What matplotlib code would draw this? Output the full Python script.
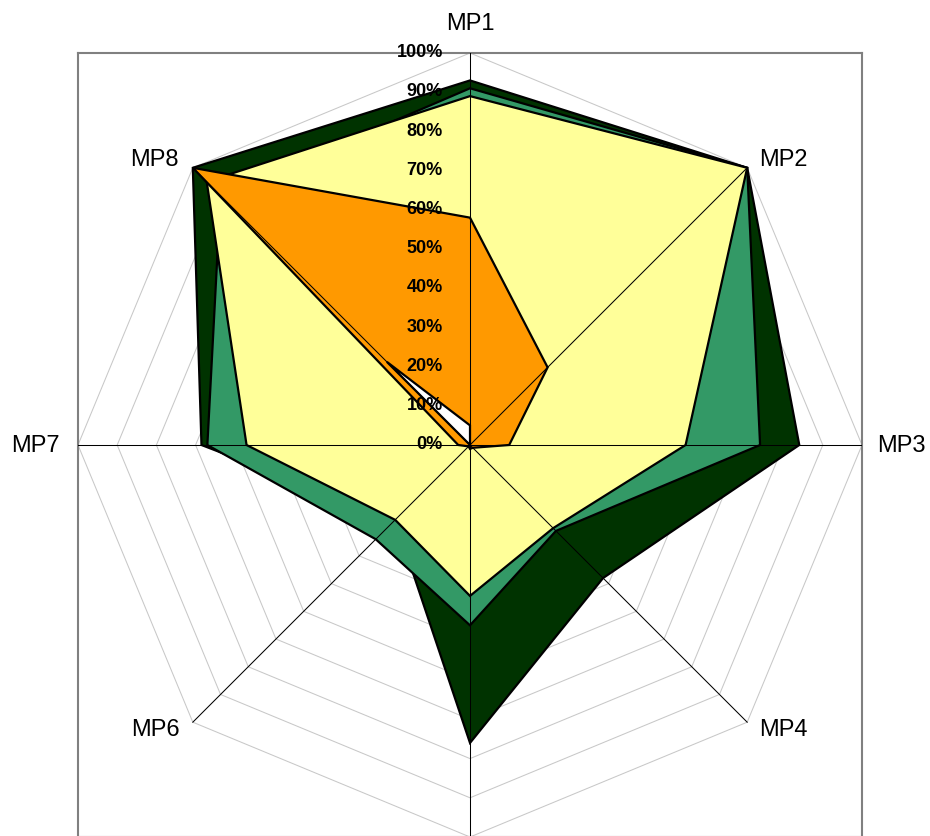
import numpy as np
import matplotlib
matplotlib.use("Agg")
import matplotlib.pyplot as plt

plt.rcParams['font.family'] = ['Liberation Sans', 'DejaVu Sans']

# Kategorien und Werte (in %)
kategorien = ['MP1', 'MP2', 'MP3', 'MP4', 'MP5', 'MP6', 'MP7', 'MP8']
serie_dunkelgruen = [93, 100, 84, 48, 76, 27, 68.5, 100]
serie_gruen = [91, 100, 74, 31, 46, 34, 67, 90]
serie_gelb = [89, 100, 55, 30, 38.5, 27, 57, 95]
serie_orange = [58, 28, 10, 1, 1, 0.5, 3, 100]
serie_weiss = [5, 0, 0, 0, 0, 0, 0, 30]
ticks = [0, 10, 20, 30, 40, 50, 60, 70, 80, 90, 100]

serien = [
    (serie_dunkelgruen, '#003300'),
    (serie_gruen, '#339966'),
    (serie_gelb, '#FFFF99'),
    (serie_orange, '#FF9900'),
    (serie_weiss, '#FFFFFF'),
]

n = len(kategorien)
winkel = np.pi / 2 - np.arange(n) * 2 * np.pi / n


def xy(werte):
    r = np.asarray(werte, dtype=float) / 100.0
    return r * np.cos(winkel), r * np.sin(winkel)


fig = plt.figure(figsize=(9.3, 8.37), dpi=100)
ax = fig.add_axes([78 / 930, -1 / 837, 784 / 930, 784 / 837])
ax.set_xlim(-1, 1)
ax.set_ylim(-1, 1)
ax.set_xticks([])
ax.set_yticks([])
for s in ['left', 'right', 'top', 'bottom']:
    ax.spines[s].set_color('#808080')
    ax.spines[s].set_linewidth(1.5)

#%% Gitternetz (Polygone)
for t in ticks[1:]:
    gx, gy = xy([t] * n)
    ax.plot(np.append(gx, gx[0]), np.append(gy, gy[0]), color='#C8C8C8', lw=0.75, zorder=1)

#%% Datenreihen
for i, (werte, farbe) in enumerate(serien):
    px, py = xy(werte)
    ax.fill(px, py, facecolor=farbe, edgecolor='black', lw=1.6, joinstyle='miter', zorder=2 + i)

#%% Speichen
ex, ey = xy([100] * n)
for k in range(n):
    ax.plot([0, ex[k]], [0, ey[k]], color='black', lw=0.75, zorder=10)

#%% Beschriftungen
for t in ticks:
    ax.annotate(f'{t}%', (0, t / 100), xytext=(-19.5, 1), textcoords='offset points',
                ha='right', va='center', fontsize=13, fontweight='bold', zorder=12)

# MP5 liegt unterhalb des Bildrands (wie im Original abgeschnitten)
versatz = [(0, 17, 'center', 'baseline'), (8.5, 6.5, 'left', 'center'), (11, 0, 'left', 'center'),
           (8.5, -5, 'left', 'center'), None, (-9.5, -5, 'right', 'center'),
           (-13, 0, 'right', 'center'), (-10, 6.5, 'right', 'center')]
for k, name in enumerate(kategorien):
    if versatz[k] is None:
        continue
    dx, dy, ha, va = versatz[k]
    ax.annotate(name, (ex[k], ey[k]), xytext=(dx, dy), textcoords='offset points',
                ha=ha, va=va, fontsize=17, annotation_clip=False)

fig.savefig('out.png', dpi=100)
